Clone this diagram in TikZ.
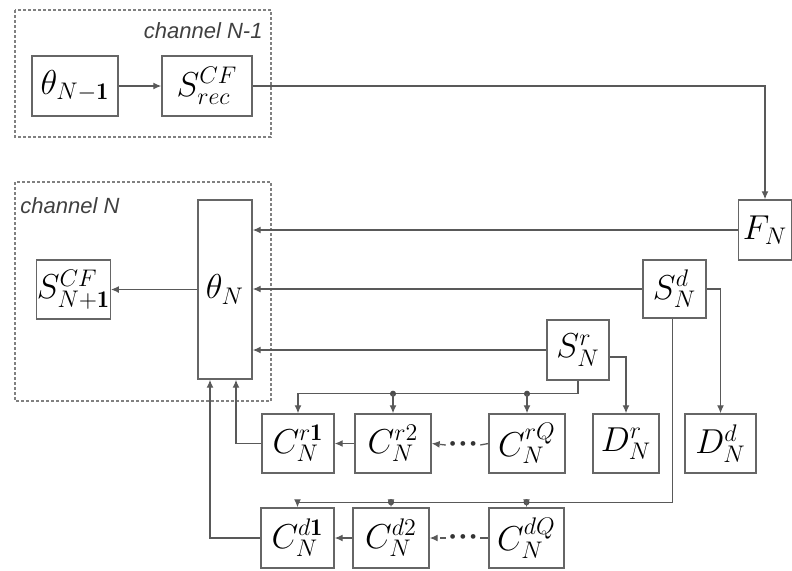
\documentclass[tikz,border=0pt]{standalone}
\usepackage{fontspec}
\usepackage{tikz}
\usepackage{xcolor}
\usetikzlibrary{shapes,arrows,arrows.meta}
\newfontfamily\lblfont{Liberation Sans}

\begin{document}
\begin{tikzpicture}[x=0.5pt,y=-0.5pt,
    blk/.style={draw=black!60, line width=0.7pt, inner sep=0pt, font=\LARGE},
    arr/.style={-{Latex[length=4pt,width=3.5pt]}, draw=black!65, line width=0.65pt},
    lne/.style={draw=black!65, line width=0.65pt},
    chan/.style={draw=black!50, line width=0.6pt, dash pattern=on 1.5pt off 1pt},
    lbl/.style={font=\lblfont\itshape\fontsize{11}{13}\selectfont, text=black!75, inner sep=0pt}]
                \useasboundingbox (0,0) rectangle (792,570);
                % Draw channel frames
                \draw[chan] (15,10) rectangle (271,137);
                \draw[chan] (15,182) rectangle (271,401);
                \node[lbl, anchor=north east] (lprev) at (263,22) {channel N-1};
                \node[lbl, anchor=north west] (lcur) at (20,197) {channel N};

                % channel N-1 blocks
                \node[blk, minimum width=43pt, minimum height=30pt] (thprev) at (75,86) {$\theta_{N-\mathbf{1}}$};
                \node[blk, minimum width=45pt, minimum height=30pt] (Srec) at (207,86) {$S^{CF}_{rec}$};
                % channel N blocks
                \node[blk, minimum width=27pt, minimum height=89.5pt] (thN) at (225,289.5) {$\theta_N$};
                \node[blk, minimum width=33.5pt, minimum height=29.5pt] (Snext) at (73.5,289.5) {$S^{CF}_{N+\mathbf{1}}$};
                % right side blocks
                \node[blk, minimum width=26.5pt, minimum height=30pt] (FN) at (765,230) {$F_N$};
                \node[blk, minimum width=31.5pt, minimum height=29pt] (Sd) at (674.5,289) {$S^{d}_{N}$};
                \node[blk, minimum width=31pt, minimum height=30pt] (Sr) at (578,350) {$S^{r}_{N}$};
                \node[blk, minimum width=33pt, minimum height=29.5pt] (Dr) at (626,443.5) {$D^{r}_{N}$};
                \node[blk, minimum width=35.5pt, minimum height=29.5pt] (Dd) at (720.5,443.5) {$D^{d}_{N}$};
                % counters r
                \node[blk, minimum width=36pt, minimum height=29.5pt] (Cr1) at (298,443.5) {$C^{r\mathbf{1}}_{N}$};
                \node[blk, minimum width=38pt, minimum height=29.5pt] (Cr2) at (393,443.5) {$C^{r2}_{N}$};
                \node[blk, minimum width=38pt, minimum height=29.5pt] (CrQ) at (527,443.5) {$C^{rQ}_{N}$};
                % counters d
                \node[blk, minimum width=36.5pt, minimum height=30pt] (Cd1) at (297.5,538) {$C^{d\mathbf{1}}_{N}$};
                \node[blk, minimum width=38pt, minimum height=30pt] (Cd2) at (391,538) {$C^{d2}_{N}$};
                \node[blk, minimum width=37.5pt, minimum height=30pt] (CdQ) at (526.5,538) {$C^{dQ}_{N}$};
                % dots between counters
                \node[inner sep=0pt, text=black!80] (rdots) at (463,445) {\footnotesize\textbullet\kern-1.5pt\textbullet\kern-1.5pt\textbullet};
                \node[inner sep=0pt, text=black!80] (ddots) at (463,538) {\footnotesize\textbullet\kern-1.5pt\textbullet\kern-1.5pt\textbullet};

                % channel N-1 connections
                \draw[arr] (thprev) -- (Srec);
                \draw[arr] (Srec.east) -| (FN.north);
                % inputs of theta_N
                \draw[arr] (FN.west) -- (FN.west -| thN.east);
                \draw[arr] (Sd.west) -- (Sd.west -| thN.east);
                \draw[arr] (Sr.west) -- (Sr.west -| thN.east);
                \draw[arr] (thN.west |- Snext) -- (Snext.east);
                % to D blocks
                \draw[arr] (Sd.east) -| (Dd.north);
                \draw[arr] ([yshift=-3.5pt]Sr.east) -| (Dr.north);

                % r bus
                \path (Sr.south) ++(0,13) coordinate (rb);
                \draw[arr] (Sr.south) -- (rb) -| (Cr1.north);
                \filldraw[black!70] (rb -| Cr2.north) circle (1.3pt);
                \filldraw[black!70] (rb -| CrQ.north) circle (1.3pt);
                \draw[arr] (rb -| Cr2.north) -- (Cr2.north);
                \draw[arr] (rb -| CrQ.north) -- (CrQ.north);
                % d bus
                \path (Sd.south) ++(-2,183.5) coordinate (db);
                \draw[arr] (Sd.south) ++(-2,0) -- (db) -| (Cd1.north);
                \filldraw[black!70] (db -| Cd2.north) circle (1.3pt);
                \filldraw[black!70] (db -| CdQ.north) circle (1.3pt);
                \draw[arr] (db -| Cd2.north) -- (Cd2.north);
                \draw[arr] (db -| CdQ.north) -- (CdQ.north);

                % counter chains
                \draw[arr] (Cr2) -- (Cr1);
                \draw[lne] (CrQ.west) -- (rdots.east);
                \draw[arr, dashed] (rdots.west) -- (Cr2.east);
                \draw[arr] (Cd2) -- (Cd1);
                \draw[lne] (CdQ.west) -- (ddots.east);
                \draw[arr, dashed] (ddots.west) -- (Cd2.east);
                % back to theta_N
                \draw[arr] (Cr1.west) -| ([xshift=5.5pt]thN.south);
                \draw[arr] (Cd1.west) -| ([xshift=-7.5pt]thN.south);
            \end{tikzpicture}
\end{document}
